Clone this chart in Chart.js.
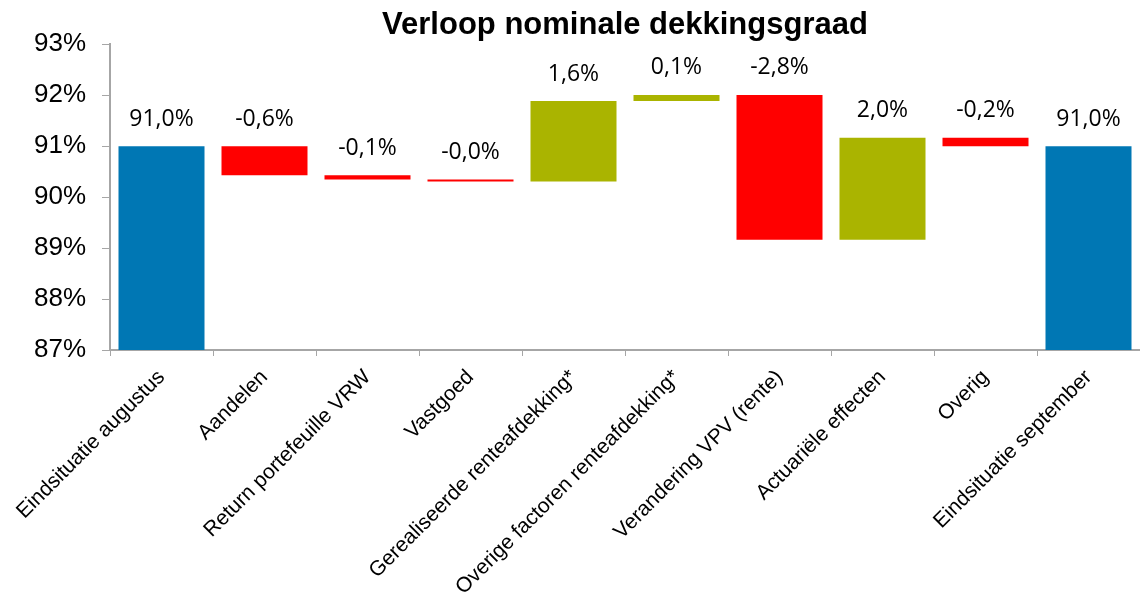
<!DOCTYPE html>
<html>
<head>
<meta charset="utf-8">
<script src="https://cdn.jsdelivr.net/npm/chart.js@4.4.1/dist/chart.umd.min.js"></script>
<style>
	html, body { margin: 0; padding: 0; background: #fff; }
	#wrap { width: 1140px; height: 598px; position: relative; }
</style>
</head>
<body>
<div id="wrap"><canvas id="chart"></canvas></div>
<script>
// Data
const categories = [
	'Eindsituatie augustus',
	'Aandelen',
	'Return portefeuille VRW',
	'Vastgoed',
	'Gerealiseerde renteafdekking*',
	'Overige factoren renteafdekking*',
	'Verandering VPV (rente)',
	'Actuariële effecten',
	'Overig',
	'Eindsituatie september'
];
const startValue = 91.0;
const changes = [-0.57, -0.085, -0.04, 1.58, 0.12, -2.84, 2.0, -0.165];
const endValue = 91.0;
const yMin = 87;
const yMax = 93;

const BLUE = '#0077B4';
const RED = '#FF0000';
const OLIVE = '#AAB400';

// Build floating bars [low, high] from the running total
const bars = [[yMin, startValue]];
const colors = [BLUE];
const labelTexts = [startValue.toFixed(1).replace('.', ',') + '%'];
let total = startValue;
changes.forEach(c => {
	const next = total + c;
	bars.push([Math.min(total, next), Math.max(total, next)]);
	colors.push(c < 0 ? RED : OLIVE);
	labelTexts.push(c.toFixed(1).replace('.', ',') + '%');
	total = next;
});
bars.push([yMin, endValue]);
colors.push(BLUE);
labelTexts.push(endValue.toFixed(1).replace('.', ',') + '%');

// Value labels above every bar
const barLabels = {
	id: 'barLabels',
	afterDatasetsDraw(chart) {
		const ctx = chart.ctx;
		const meta = chart.getDatasetMeta(0);
		ctx.save();
		ctx.font = '23px "Open Sans", sans-serif';
		ctx.fillStyle = '#000';
		ctx.textAlign = 'center';
		ctx.textBaseline = 'middle';
		meta.data.forEach((bar, i) => {
			const top = Math.min(bar.y, bar.base);
			ctx.fillText(labelTexts[i], bar.x, top - 27);
		});
		ctx.restore();
	}
};

new Chart(document.getElementById('chart'), {
	type: 'bar',
	data: {
		labels: categories,
		datasets: [{
			data: bars,
			backgroundColor: colors,
			borderWidth: 0,
			barPercentage: 0.835,
			categoryPercentage: 1
		}]
	},
	options: {
		responsive: true,
		maintainAspectRatio: false,
		animation: false,
		layout: { padding: { left: 0, right: -4, top: 0, bottom: 0 } },
		plugins: {
			legend: { display: false },
			tooltip: { enabled: false },
			title: {
				display: true,
				text: 'Verloop nominale dekkingsgraad',
				fullSize: false,
				color: '#000',
				font: { family: '"Liberation Sans", Arial, sans-serif', size: 31, weight: 'bold' },
				padding: { top: 7, bottom: 0 }
			}
		},
		scales: {
			x: {
				grid: {
					display: true,
					drawOnChartArea: false,
					offset: true,
					color: '#A6A6A6',
					tickLength: 6,
					tickColor: '#A6A6A6'
				},
				border: { color: '#A6A6A6', width: 2 },
				ticks: {
					color: '#000',
					minRotation: 45,
					maxRotation: 45,
					autoSkip: false,
					padding: 9,
					font: { family: '"Liberation Sans", Arial, sans-serif', size: 21 }
				},
				afterFit(scale) { scale.height = 248; }
			},
			y: {
				min: yMin,
				max: yMax,
				grid: {
					display: true,
					drawOnChartArea: false,
					color: '#A6A6A6',
					tickLength: 8,
					tickColor: '#A6A6A6'
				},
				border: { color: '#A6A6A6', width: 2 },
				ticks: {
					stepSize: 1,
					color: '#000',
					padding: 16,
					font: { family: '"Liberation Sans", Arial, sans-serif', size: 26 },
					callback: v => v + '%'
				},
				afterFit(scale) { scale.width = 110; }
			}
		}
	},
	plugins: [barLabels]
});
</script>
</body>
</html>
